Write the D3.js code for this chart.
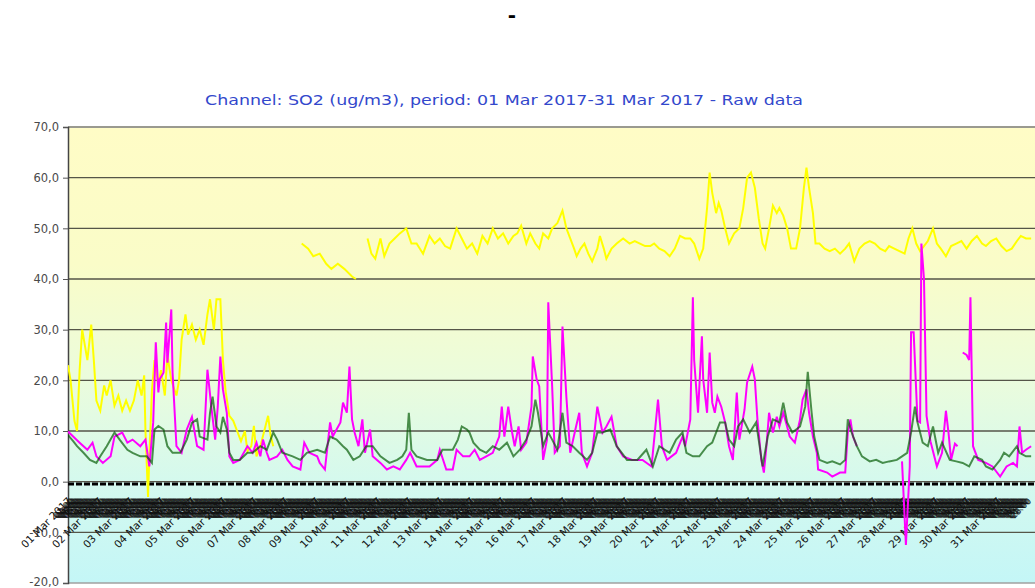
<!DOCTYPE html>
<html><head><meta charset="utf-8">
<script src="https://cdn.jsdelivr.net/npm/d3@7"></script>
<style>body{margin:0;background:#fff;overflow:hidden}</style>
</head><body><svg id="c" width="1035" height="588"></svg>
<script>
const mainTitle = "-";
const chartTitle = "Channel: SO2 (ug/m3), period: 01 Mar 2017-31 Mar 2017 - Raw data";
const yTickValues = [70,60,50,40,30,20,10,0,-10,-20];
// readings: [hours since 01 Mar 2017 00:00, ug/m3]; null value = gap
const yellowSeries = [[0,23],[2,20],[5,12],[7,10],[9,22],[11,30],[13,27],[15,24],[18,31],[20,24],[22,16],[25,14],[28,19],[30,17],[33,20],[36,15],[39,17],[42,14],[45,16],[48,14],[51,16],[54,20],[57,17],[59,21],[60,10],[62,-3],[63,5],[65,18],[67,24],[70,19],[72,22],[75,17],[77,25],[80,20],[84,17],[86,20],[88,28],[91,33],[93,29],[96,31],[99,28],[102,30],[105,27],[108,33],[110,36],[113,30],[115,36],[118,36],[120,24],[122,18],[125,13],[128,12],[131,10],[134,8],[137,10],[139,6],[142,7],[144,11],[146,5],[149,7],[152,10],[155,13],[157,9],[159,7],[160,null],
[181,47],[186,46],[190,44.5],[195,45],[200,43],[204,42],[209,43],[214,42],[220,40.5],[223,40],[224,null],
[232,48],[235,45],[238,44],[242,48],[245,44.5],[249,47],[253,48],[257,49],[262,50],[266,47],[270,47],[275,45],[280,48.5],[284,47],[288,48],[292,46.5],[296,46],[301,50],[305,48],[309,46],[313,47],[317,45],[321,48.5],[325,47],[329,50],[333,48],[337,49],[341,47],[345,48.5],[348,49],[351,50.5],[355,47],[358,49],[362,47],[365,46],[368,49],[372,48],[375,50],[379,51],[383,53.5],[386,50],[389,48],[392,46],[394,44.5],[397,46],[400,47],[403,45],[406,43.5],[410,46],[412,48.5],[415,46],[417,44],[421,46],[425,47],[430,48],[435,47],[439,47.5],[443,47],[447,46.5],[451,46.5],[454,47],[458,46],[462,45.5],[466,44.5],[470,46],[474,48.5],[478,48],[482,48],[485,47],[489,44],[492,46],[495,54],[497,61],[499,57],[502,53],[504,55],[506,53.5],[509,50],[512,47],[516,49],[520,50],[523,54],[526,60],[529,61],[532,58],[535,52],[538,47],[540,46],[543,50],[546,54.5],[549,53],[551,54],[554,52.5],[557,50],[560,46],[564,46],[567,50],[570,58],[572,62],[574,58],[577,53],[579,47],[582,47],[586,46],[590,45.5],[594,46],[598,45],[602,46],[605,47],[609,43.5],[613,46],[617,47],[621,47.5],[625,47],[629,46],[633,45.5],[636,46.5],[640,46],[644,45.5],[648,45],[651,48],[654,50],[657,47],[660,45.5],[663,46.5],[666,47.5],[670,50],[673,47],[676,46],[680,44.5],[684,46.5],[688,47],[692,47.5],[696,46],[700,47.5],[704,48.5],[708,47],[711,46.5],[715,47.5],[719,48],[723,46.5],[727,45.5],[731,46],[735,47.5],[738,48.5],[742,48],[746,48]];

const greenSeries = [[0,9.2],[4,8],[7,7],[12,5.7],[17,4.3],[22,3.7],[25,5],[30,7],[36,9.7],[40,8.3],[46,6.3],[50,5.7],[56,5],[61,5],[65,3.7],[67,10.3],[70,11],[74,10.3],[77,7],[81,5.7],[87,5.7],[92,8.3],[96,11.6],[100,12.3],[102,8.9],[108,8.3],[110,13.6],[112,16.8],[115,10.9],[118,9.7],[120,12.8],[123,10.3],[125,5.7],[128,4.3],[133,4.3],[139,5.7],[143,5.7],[149,7],[154,6.3],[159,9.7],[162,8.3],[166,5.7],[174,5],[180,4.3],[185,5.7],[193,6.3],[199,5.7],[203,8.9],[208,8.3],[213,7],[216,6.3],[221,4.3],[226,5],[231,7],[236,7],[242,5],[249,3.7],[255,4.3],[259,5],[262,6.3],[264,13.6],[266,6.3],[270,5],[278,4.3],[286,4.3],[290,6.3],[298,6.3],[302,8.3],[305,10.9],[309,10.3],[311,9.7],[314,7.7],[319,6.3],[324,5.7],[329,7],[334,6.3],[340,7.7],[345,5],[350,6.3],[355,8.3],[359,10.9],[362,16.2],[364,13.6],[368,7],[372,9.7],[375,8.3],[379,6.3],[383,13.6],[386,7.7],[391,7],[396,5.7],[402,4.3],[406,5.7],[410,9.7],[414,9.7],[420,10.3],[425,7],[433,4.3],[441,4.3],[448,6.3],[453,3],[458,7],[466,5.7],[471,8.3],[476,9.7],[479,5.7],[484,5],[489,5],[495,7],[499,7.7],[505,11.7],[509,11.7],[512,8.3],[516,7],[519,10.9],[523,12.3],[528,9.7],[533,11.7],[538,3],[542,8.9],[546,12.3],[551,11.7],[554,15.6],[557,11.7],[561,9.7],[567,10.9],[571,14.8],[573,21.7],[576,13.6],[578,8.9],[582,4.3],[588,3.7],[592,4],[598,3.4],[602,4.3],[604,12.3],[607,9.7],[611,7],[615,5],[621,4],[626,4.3],[631,3.7],[636,4],[642,4.3],[646,5],[650,5.7],[653,9.7],[656,14.8],[658,11.7],[662,7.7],[666,7],[670,10.9],[674,5.7],[677,7.7],[683,4.3],[688,4],[693,3.7],[698,3],[702,5],[708,4.3],[711,3],[716,2.4],[722,4.3],[725,5.7],[729,5],[735,7],[737,5.7],[742,5],[746,5]];

const magentaSeries = [[0,9.9],[4,8.9],[9,7.7],[15,6.3],[19,7.7],[22,5],[27,3.7],[33,5],[36,8.9],[42,9.7],[46,7.7],[50,8.3],[56,7],[60,8.3],[63,3],[66,11.7],[68,27.5],[70,17.6],[71,20.2],[74,21.5],[76,31.4],[77,23.5],[80,34],[81,21.5],[84,7],[88,5.7],[92,10.3],[96,12.8],[100,7],[105,6.3],[108,22.1],[111,14.8],[114,8.3],[116,14.8],[118,24.7],[120,18.2],[123,13.6],[125,5],[128,3.7],[133,4.3],[139,7],[143,5.7],[146,7.7],[149,5],[151,8.3],[154,5.7],[156,4.3],[162,5],[166,6.3],[170,4.3],[174,3],[180,2.4],[183,7.7],[187,5.7],[193,5],[195,3.7],[199,2.4],[203,11.7],[205,8.9],[208,10.3],[211,11.7],[213,15.6],[216,13.6],[218,22.7],[220,12.3],[222,9.7],[225,7],[228,12.3],[230,5.7],[234,10.3],[236,5],[242,3.7],[247,2.4],[252,3],[257,2.4],[262,4.3],[265,5.7],[270,3],[275,3],[280,3],[286,4.3],[288,6.3],[293,2.4],[298,2.4],[301,6.3],[306,5],[311,5],[315,6.3],[319,4.3],[324,5],[329,5.7],[334,8.9],[336,14.8],[338,8.9],[341,14.8],[344,9.7],[346,7],[349,10.9],[351,6.3],[355,7.7],[359,14.8],[360,24.7],[363,20.2],[365,18.8],[368,4.3],[371,8.3],[372,35.4],[375,18.8],[377,5.7],[381,7],[383,30.6],[386,16.8],[389,5.7],[393,10.3],[396,13.6],[398,5.7],[402,3],[406,5.7],[410,14.8],[412,12.3],[414,9.7],[417,10.9],[421,12.8],[425,7],[430,5],[437,4.3],[445,4.3],[452,3],[457,16.2],[460,7],[464,4.3],[471,5.7],[476,8.9],[478,7],[482,12.3],[484,36.4],[485,24],[488,13.6],[491,28.7],[492,20.2],[495,13.6],[497,25.5],[499,15.6],[501,13.6],[503,16.8],[506,14.8],[509,11.7],[512,7],[515,4.3],[518,17.6],[520,8.3],[524,14.2],[526,19.6],[530,22.7],[532,20.2],[534,12.3],[537,4.3],[539,1.8],[541,7],[543,13.6],[546,9.7],[549,12.8],[551,10.9],[554,13.6],[557,10.9],[559,8.9],[563,7.7],[567,12.3],[569,16.2],[572,18.2],[574,13.6],[577,8.9],[580,5.7],[581,2.4],[588,1.8],[592,1],[598,1.8],[602,1.8],[604,9.7],[606,12.3],[608,8.9],[611,7],[612,null],
[646,4],[649,-12.5],[652,3],[653,29.5],[655,29.5],[658,12],[660,11.7],[661,47],[663,40],[665,13],[668,8],[670,6],[673,3],[677,5.7],[680,14],[682,9.7],[684,4.3],[687,7.5],[689,7],[690,null],
[693,25.5],[696,25],[698,24],[699,36.4],[701,7],[705,4.3],[711,3.7],[716,3],[722,1],[727,3],[732,3.7],[735,3],[737,10.9],[739,5.7],[742,6.3],[746,7]];

const svg = d3.select("#c");
const L = 68, R = 1035, T = 127, B = 583;
const hourDate = h => new Date(2017, 2, 1, h);
const x = d3.scaleTime().domain([hourDate(0), hourDate(749)]).range([L, R]);
const y = d3.scaleLinear().domain([-20, 70]).range([B, T]);

const defs = svg.append("defs");
const grad = defs.append("linearGradient").attr("id","bg").attr("x1",0).attr("y1",0).attr("x2",0).attr("y2",1);
[[0,"#fffcc6"],[0.3,"#fafcc8"],[0.55,"#ebfcdc"],[0.78,"#d4f9ee"],[1,"#c4f6f7"]].forEach(([o,c]) =>
  grad.append("stop").attr("offset", o).attr("stop-color", c));
defs.append("clipPath").attr("id","clip").append("rect").attr("x",L).attr("y",T).attr("width",R-L).attr("height",B-T);

svg.append("rect").attr("x",L).attr("y",T).attr("width",R-L).attr("height",B-T).attr("fill","url(#bg)");

// gridlines
svg.append("g").selectAll("line").data(yTickValues).join("line")
  .attr("x1", L).attr("x2", R).attr("y1", d => y(d)).attr("y2", d => y(d))
  .attr("stroke", d => d === 70 ? "#9a9a90" : (d === -20 ? "#a0a0a0" : "#555548"))
  .attr("stroke-width", d => d === 70 ? 2 : 1.4);

// y axis
const yAxis = d3.axisLeft(y).tickValues(yTickValues).tickSize(5).tickPadding(4)
  .tickFormat(d => d.toFixed(1).replace(".", ","));
const yg = svg.append("g").attr("transform", `translate(${L},0)`).call(yAxis);
yg.select(".domain").attr("stroke", "#444").attr("stroke-width", 1.5);
yg.selectAll(".tick line").attr("stroke", "#555");
yg.selectAll("text").attr("fill", "#4a4a4a").style("font-family", "DejaVu Sans, sans-serif").style("font-size", "11.5px")
  .attr("dy", d => d === -20 ? "0.2em" : "0.32em");

// x axis with hourly labels
const hourTicks = d3.range(0, 744).map(hourDate);
const fmtDay = d3.timeFormat("%d %b %Y"), fmtHour = d3.timeFormat("%H:%M");
const xAxis = d3.axisBottom(x).tickValues(hourTicks).tickSize(0)
  .tickFormat(d => d.getHours() === 0 ? fmtDay(d) : fmtHour(d));
const xg = svg.append("g").attr("transform", `translate(0,${y(0)})`).call(xAxis);
xg.select(".domain").remove();
xg.selectAll("text")
  .attr("y", 0).attr("dy", 0).attr("x", 0)
  .attr("text-anchor", "end")
  .attr("transform", "translate(4,20) rotate(-45)")
  .attr("fill", "#111")
  .style("font-family", "DejaVu Sans, sans-serif")
  .style("font-size", d => d.getHours() === 0 ? "10.5px" : "8.5px");

// dashed zero line
svg.append("line").attr("x1", L).attr("x2", R).attr("y1", y(-0.45)).attr("y2", y(-0.45))
  .attr("stroke", "#000").attr("stroke-width", 3).attr("stroke-dasharray", "6,2");

// series
const line = d3.line().defined(d => d[1] !== null).x(d => x(hourDate(d[0]))).y(d => y(d[1]));
const plot = svg.append("g").attr("clip-path", "url(#clip)");
plot.append("path").datum(yellowSeries).attr("d", line).attr("fill","none").attr("stroke","#ffff00").attr("stroke-width",2);
plot.append("path").datum(magentaSeries).attr("d", line).attr("fill","none").attr("stroke","#ff00ff").attr("stroke-width",2);
plot.append("path").datum(greenSeries).attr("d", line).attr("fill","none").attr("stroke","#005800").attr("stroke-width",2).attr("stroke-opacity",0.68);

// titles
svg.append("text").attr("x", 512).attr("y", 22).attr("text-anchor","middle")
  .style("font-family","DejaVu Sans, sans-serif").style("font-size","20px").style("font-weight","bold").text(mainTitle);
svg.append("text").attr("x", 504).attr("y", 105).attr("text-anchor","middle")
  .attr("textLength", 598).attr("lengthAdjust", "spacingAndGlyphs")
  .attr("fill", "#3348cc")
  .style("font-family","DejaVu Sans, sans-serif").style("font-size","13.5px").text(chartTitle);
</script></body></html>
